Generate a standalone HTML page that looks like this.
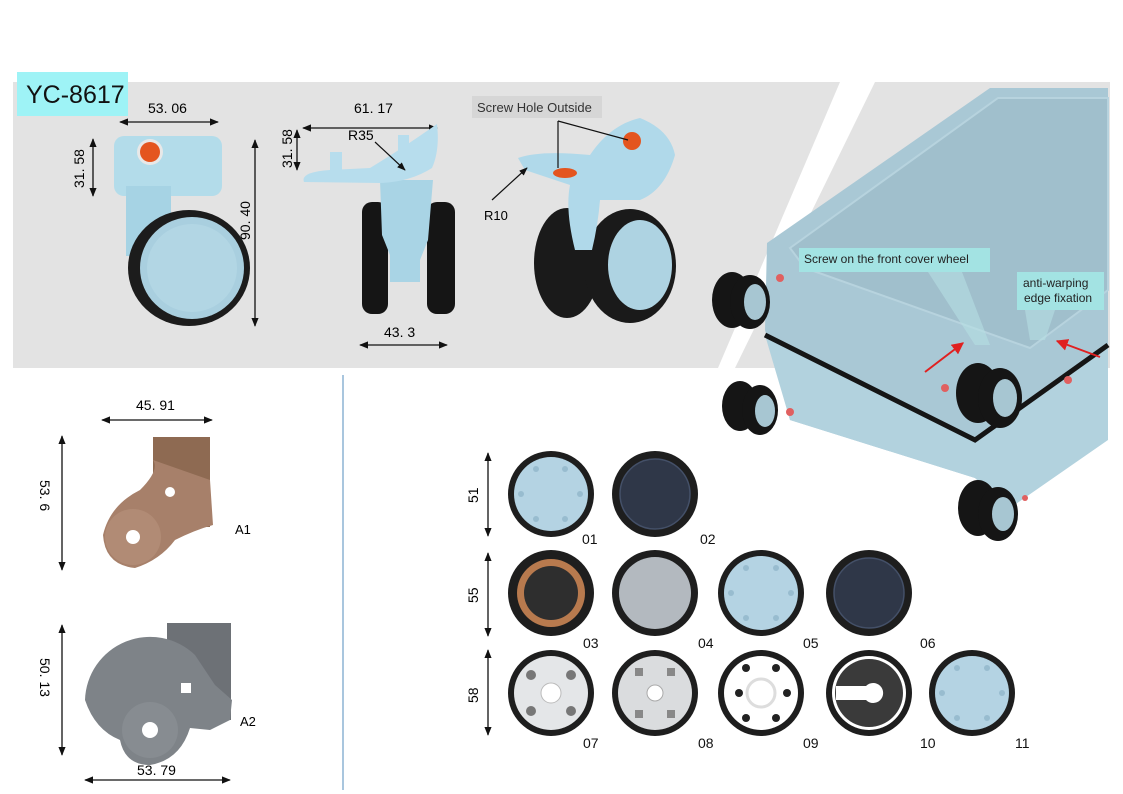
<!DOCTYPE html>
<html><head><meta charset="utf-8"><style>
html,body{margin:0;padding:0;background:#fff;}
svg{display:block;font-family:"Liberation Sans",sans-serif;}
</style></head><body>
<svg width="1123" height="794" viewBox="0 0 1123 794" xmlns="http://www.w3.org/2000/svg">
<defs>
<marker id="a" viewBox="0 0 10 10" refX="9" refY="5" markerWidth="7" markerHeight="7" orient="auto-start-reverse"><path d="M0,1 L10,5 L0,9 z" fill="#111"/></marker>
<marker id="r" viewBox="0 0 10 10" refX="9" refY="5" markerWidth="6" markerHeight="6" orient="auto"><path d="M0,0 L10,5 L0,10 z" fill="#e02020"/></marker>
</defs>
<polygon points="13,82 840,82 718,368 13,368" fill="#e3e3e3"/>
<polygon points="875,82 1110,82 1110,368 735,368" fill="#e3e3e3"/>
<rect x="17" y="72" width="111" height="44" fill="#9ef3f6"/>
<text x="26" y="103" font-size="25" fill="#111">YC-8617</text>

<g stroke="#111" stroke-width="1.3" fill="none">
<line x1="120" y1="122" x2="218" y2="122" marker-start="url(#a)" marker-end="url(#a)"/>
<line x1="93" y1="139" x2="93" y2="196" marker-start="url(#a)" marker-end="url(#a)"/>
<line x1="255" y1="140" x2="255" y2="326" marker-start="url(#a)" marker-end="url(#a)"/>
<line x1="303" y1="128" x2="437" y2="128" marker-start="url(#a)" marker-end="url(#a)"/>
<line x1="297" y1="130" x2="297" y2="170" marker-start="url(#a)" marker-end="url(#a)"/>
<line x1="360" y1="345" x2="447" y2="345" marker-start="url(#a)" marker-end="url(#a)"/>
</g>
<text x="148" y="113" font-size="14">53. 06</text>
<text x="354" y="113" font-size="14">61. 17</text>
<text x="384" y="337" font-size="14">43. 3</text>
<text font-size="14" transform="translate(84,188) rotate(-90)">31. 58</text>
<text font-size="14" transform="translate(250,240) rotate(-90)">90. 40</text>
<text font-size="14" transform="translate(292,168) rotate(-90)">31. 58</text>

<rect x="114" y="136" width="108" height="60" rx="10" fill="#b3dcea"/>
<rect x="126" y="186" width="45" height="70" fill="#a6d3e4"/>
<ellipse cx="189" cy="268" rx="61" ry="58" fill="#1c1c1c"/>
<ellipse cx="192" cy="268" rx="52" ry="51" fill="#a9cfdf"/>
<ellipse cx="192" cy="268" rx="45" ry="44" fill="#b2d6e4"/>
<circle cx="150" cy="152" r="13" fill="#e8e8e8"/>
<circle cx="150" cy="152" r="10" fill="#e4551f"/>

<rect x="362" y="202" width="26" height="112" rx="10" fill="#151515"/>
<rect x="427" y="202" width="28" height="112" rx="10" fill="#151515"/>
<path d="M380,180 L433,180 L428,240 L420,260 L420,282 L390,282 L390,255 L382,235 Z" fill="#a9d4e5"/>
<path d="M304,182 Q300,172 330,170 L370,168 Q400,150 437,124 Q440,150 432,168 Q410,182 380,183 Z" fill="#b7dded"/>
<rect x="330" y="152" width="12" height="18" fill="#b7dded"/>
<rect x="398" y="135" width="11" height="30" fill="#b7dded"/>
<text x="348" y="140" font-size="14">R35</text>
<line x1="375" y1="142" x2="405" y2="170" stroke="#111" stroke-width="1.2" marker-end="url(#a)"/>

<rect x="472" y="96" width="130" height="22" fill="#d6d6d6"/>
<text x="477" y="112" font-size="13" fill="#333">Screw Hole Outside</text>
<ellipse cx="567" cy="263" rx="33" ry="55" fill="#1a1a1a"/>
<ellipse cx="630" cy="266" rx="46" ry="57" fill="#1a1a1a"/>
<ellipse cx="640" cy="265" rx="32" ry="45" fill="#aed3e2"/>
<path d="M518,158 Q540,150 590,155 Q610,125 640,118 Q670,130 675,155 Q665,190 640,200 L600,200 Q598,225 592,250 L575,250 Q565,210 570,185 L525,170 Z" fill="#b0d9ea"/>
<ellipse cx="565" cy="173" rx="12" ry="5" fill="#e4551f"/>
<circle cx="632" cy="141" r="9" fill="#e4551f"/>
<g stroke="#111" stroke-width="1.2" fill="none">
<line x1="558" y1="121" x2="558" y2="168"/>
<line x1="558" y1="121" x2="628" y2="140"/>
<line x1="492" y1="200" x2="527" y2="168" marker-end="url(#a)"/>
</g>
<text x="484" y="220" font-size="13">R10</text>

<polygon points="767,243 990,88 1108,88 1108,430 1010,508 975,478 790,420 765,330" fill="#a9c8d5"/>
<polygon points="790,248 998,98 1108,98 1108,290 1030,348 805,268" fill="#a0bfcc" stroke="#b7d3de" stroke-width="2"/>
<polygon points="765,335 975,440 1108,345 1108,440 1010,508 975,478 790,420" fill="#b2d2de"/>
<polyline points="765,335 975,440 1108,345" fill="none" stroke="#151515" stroke-width="5"/>
<g>
<ellipse cx="732" cy="300" rx="20" ry="28" fill="#151515"/><ellipse cx="750" cy="302" rx="20" ry="27" fill="#151515"/><ellipse cx="755" cy="302" rx="11" ry="18" fill="#a7c6d2"/>
<ellipse cx="740" cy="406" rx="18" ry="25" fill="#151515"/><ellipse cx="760" cy="410" rx="18" ry="25" fill="#151515"/><ellipse cx="765" cy="411" rx="10" ry="16" fill="#a7c6d2"/>
<ellipse cx="978" cy="393" rx="22" ry="30" fill="#151515"/><ellipse cx="1000" cy="398" rx="22" ry="30" fill="#151515"/><ellipse cx="1005" cy="398" rx="12" ry="19" fill="#a7c6d2"/>
<ellipse cx="978" cy="508" rx="20" ry="28" fill="#151515"/><ellipse cx="998" cy="514" rx="20" ry="27" fill="#151515"/><ellipse cx="1003" cy="514" rx="11" ry="17" fill="#a7c6d2"/>
<circle cx="780" cy="278" r="4" fill="#e06060"/><circle cx="790" cy="412" r="4" fill="#e06060"/><circle cx="945" cy="388" r="4" fill="#e06060"/><circle cx="1068" cy="380" r="4" fill="#e06060"/><circle cx="1025" cy="498" r="3" fill="#e06060"/>
</g>
<polygon points="928,272 962,272 990,345 975,345" fill="#b6dfe2" opacity="0.6"/>
<polygon points="1025,310 1055,310 1045,340 1030,340" fill="#b6dfe2" opacity="0.6"/>
<rect x="799" y="248" width="191" height="24" fill="#a3e3e3"/>
<text x="804" y="263" font-size="12" fill="#222">Screw on the front cover wheel</text>
<rect x="1017" y="272" width="87" height="38" fill="#a3e3e3"/>
<text x="1023" y="287" font-size="12" fill="#222">anti-warping</text>
<text x="1024" y="302" font-size="12" fill="#222">edge fixation</text>
<line x1="925" y1="372" x2="963" y2="343" stroke="#e02020" stroke-width="2" marker-end="url(#r)"/>
<line x1="1100" y1="357" x2="1057" y2="341" stroke="#e02020" stroke-width="2" marker-end="url(#r)"/>

<line x1="343" y1="375" x2="343" y2="790" stroke="#a9c6de" stroke-width="2"/>

<g stroke="#111" stroke-width="1.3" fill="none">
<line x1="102" y1="420" x2="212" y2="420" marker-start="url(#a)" marker-end="url(#a)"/>
<line x1="62" y1="436" x2="62" y2="570" marker-start="url(#a)" marker-end="url(#a)"/>
<line x1="62" y1="625" x2="62" y2="755" marker-start="url(#a)" marker-end="url(#a)"/>
<line x1="85" y1="780" x2="230" y2="780" marker-start="url(#a)" marker-end="url(#a)"/>
</g>
<text x="136" y="410" font-size="14">45. 91</text>
<text x="137" y="775" font-size="14">53. 79</text>
<text font-size="14" transform="translate(40,480) rotate(90)">53. 6</text>
<text font-size="14" transform="translate(40,658) rotate(90)">50. 13</text>
<text x="235" y="534" font-size="13">A1</text>
<text x="240" y="726" font-size="13">A2</text>
<rect x="153" y="437" width="57" height="90" fill="#8e6a52"/>
<path d="M153,460 Q160,470 140,490 Q110,505 103,535 Q105,565 135,568 Q160,560 175,540 Q195,530 213,525 L210,480 Z" fill="#a7806a"/>
<circle cx="133" cy="537" r="28" fill="#b18b75"/>
<circle cx="133" cy="537" r="7" fill="#fff"/>
<circle cx="170" cy="492" r="5" fill="#fff"/>
<rect x="167" y="623" width="64" height="97" fill="#6d7176"/>
<path d="M85,700 A65,65 0 0 1 195,655 L215,685 L232,700 L230,720 L210,730 L190,728 Q180,760 150,765 Q125,765 120,740 Q95,730 85,700 Z" fill="#7e8388"/>
<circle cx="150" cy="730" r="28" fill="#878c91"/>
<circle cx="150" cy="730" r="8" fill="#fff"/>
<rect x="181" y="683" width="10" height="10" fill="#fff"/>

<g stroke="#111" stroke-width="1.3" fill="none">
<line x1="488" y1="453" x2="488" y2="536" marker-start="url(#a)" marker-end="url(#a)"/>
<line x1="488" y1="553" x2="488" y2="636" marker-start="url(#a)" marker-end="url(#a)"/>
<line x1="488" y1="650" x2="488" y2="735" marker-start="url(#a)" marker-end="url(#a)"/>
</g>
<text font-size="14" transform="translate(478,503) rotate(-90)">51</text>
<text font-size="14" transform="translate(478,603) rotate(-90)">55</text>
<text font-size="14" transform="translate(478,703) rotate(-90)">58</text>

<ellipse cx="551" cy="494" rx="43" ry="43" fill="#1e1e1e"/><ellipse cx="551" cy="494" rx="37" ry="37" fill="#b4d3e3"/>
<g fill="#98bccf"><circle cx="536" cy="469" r="3"/><circle cx="565" cy="469" r="3"/><circle cx="521" cy="494" r="3"/><circle cx="580" cy="494" r="3"/><circle cx="536" cy="519" r="3"/><circle cx="565" cy="519" r="3"/></g>
<ellipse cx="655" cy="494" rx="43" ry="43" fill="#1e1e1e"/><ellipse cx="655" cy="494" rx="35" ry="35" fill="#2f3748" stroke="#445068" stroke-width="1.5"/>
<ellipse cx="551" cy="593" rx="43" ry="43" fill="#1e1e1e"/><circle cx="551" cy="593" r="34" fill="#b87a4e"/><circle cx="551" cy="593" r="27" fill="#2e2e2e"/>
<ellipse cx="655" cy="593" rx="43" ry="43" fill="#1e1e1e"/><circle cx="655" cy="593" r="36" fill="#b3b9bf"/>
<ellipse cx="761" cy="593" rx="43" ry="43" fill="#1e1e1e"/><circle cx="761" cy="593" r="37" fill="#b4d3e3"/>
<g fill="#98bccf"><circle cx="746" cy="568" r="3"/><circle cx="776" cy="568" r="3"/><circle cx="731" cy="593" r="3"/><circle cx="791" cy="593" r="3"/><circle cx="746" cy="618" r="3"/><circle cx="776" cy="618" r="3"/></g>
<ellipse cx="869" cy="593" rx="43" ry="43" fill="#1e1e1e"/><circle cx="869" cy="593" r="35" fill="#2f3748" stroke="#445068" stroke-width="1.5"/>
<ellipse cx="551" cy="693" rx="43" ry="43" fill="#1e1e1e"/><circle cx="551" cy="693" r="37" fill="#e4e6e8"/><circle cx="551" cy="693" r="10" fill="#fff" stroke="#bbb"/>
<g fill="#777"><circle cx="531" cy="675" r="5"/><circle cx="571" cy="675" r="5"/><circle cx="531" cy="711" r="5"/><circle cx="571" cy="711" r="5"/></g>
<ellipse cx="655" cy="693" rx="43" ry="43" fill="#1e1e1e"/><circle cx="655" cy="693" r="37" fill="#dadcde"/><circle cx="655" cy="693" r="8" fill="#fff" stroke="#aaa"/>
<g fill="#888"><rect x="635" y="668" width="8" height="8"/><rect x="667" y="668" width="8" height="8"/><rect x="635" y="710" width="8" height="8"/><rect x="667" y="710" width="8" height="8"/></g>
<ellipse cx="761" cy="693" rx="43" ry="43" fill="#1e1e1e"/><circle cx="761" cy="693" r="37" fill="#fff"/><circle cx="761" cy="693" r="14" fill="none" stroke="#ddd" stroke-width="3"/>
<g fill="#222"><circle cx="746" cy="668" r="4"/><circle cx="776" cy="668" r="4"/><circle cx="739" cy="693" r="4"/><circle cx="787" cy="693" r="4"/><circle cx="746" cy="718" r="4"/><circle cx="776" cy="718" r="4"/></g>
<ellipse cx="869" cy="693" rx="43" ry="43" fill="#1e1e1e"/><circle cx="869" cy="693" r="37" fill="#fff"/><circle cx="869" cy="693" r="34" fill="#3a3a3a"/>
<path d="M836,686 L866,686 A10,10 0 1 1 866,700 L836,700 Z" fill="#fff"/>
<ellipse cx="972" cy="693" rx="43" ry="43" fill="#1e1e1e"/><circle cx="972" cy="693" r="37" fill="#b4d3e3"/>
<g fill="#98bccf"><circle cx="957" cy="668" r="3"/><circle cx="987" cy="668" r="3"/><circle cx="942" cy="693" r="3"/><circle cx="1002" cy="693" r="3"/><circle cx="957" cy="718" r="3"/><circle cx="987" cy="718" r="3"/></g>
<g font-size="14" fill="#111">
<text x="582" y="544">01</text><text x="700" y="544">02</text>
<text x="583" y="648">03</text><text x="698" y="648">04</text><text x="803" y="648">05</text><text x="920" y="648">06</text>
<text x="583" y="748">07</text><text x="698" y="748">08</text><text x="803" y="748">09</text><text x="920" y="748">10</text><text x="1015" y="748">11</text>
</g>
</svg>
</body></html>
